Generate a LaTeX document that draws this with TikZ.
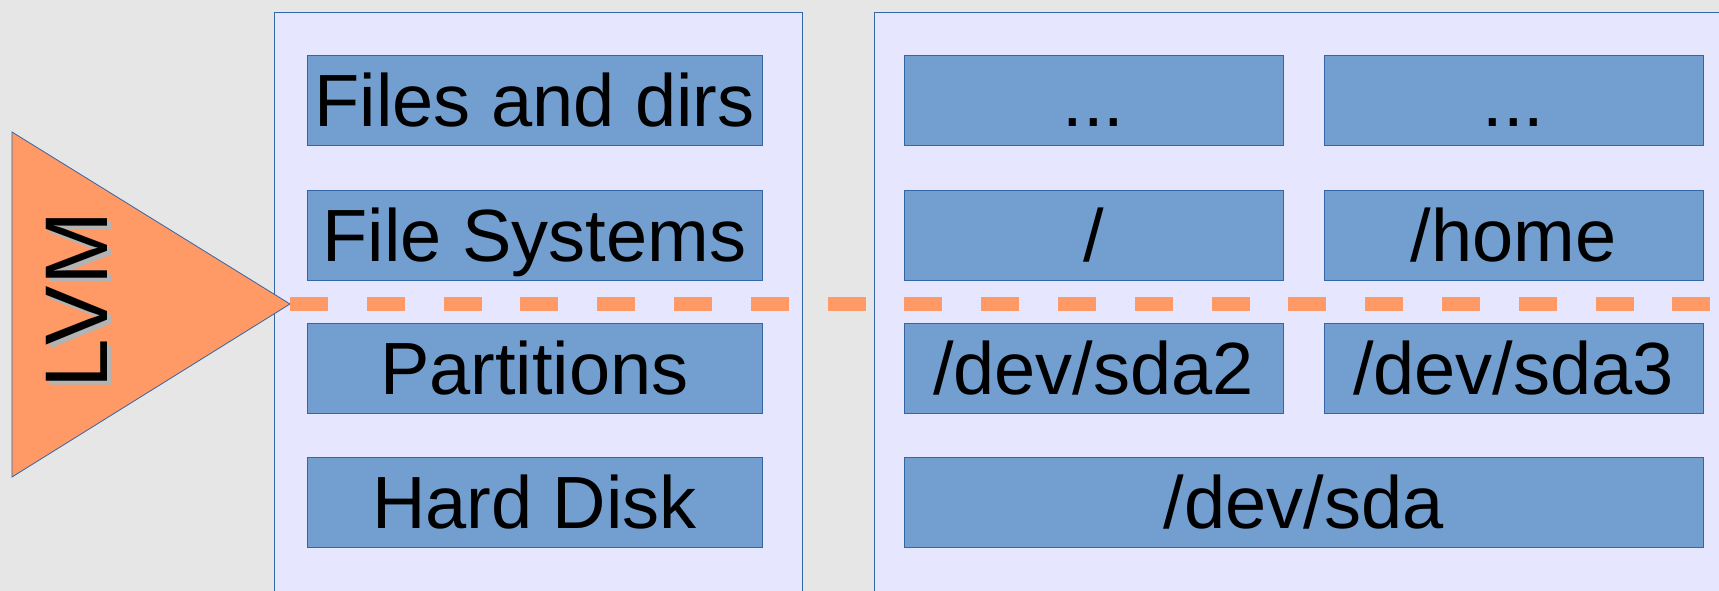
\documentclass[tikz,border=0pt]{standalone}
\usepackage{fontspec}
\setmainfont{Liberation Sans}

\definecolor{pagegray}{HTML}{E6E6E6}
\definecolor{panelbg}{HTML}{E6E6FF}
\definecolor{boxfill}{HTML}{729FCF}
\definecolor{edgeblue}{HTML}{3465A4}
\definecolor{lvmorange}{HTML}{FF9966}
\definecolor{shadowgray}{HTML}{B3B3B3}

\begin{document}
\begin{tikzpicture}[x=1pt,y=-1pt,
  panel/.style={draw=edgeblue,fill=panelbg,line width=0.8pt},
  layer/.style={draw=edgeblue,fill=boxfill,line width=0.8pt,inner sep=0pt,
    minimum width=455pt,minimum height=90pt,
    text height=53pt,text depth=0pt,font=\fontsize{74}{80}\selectfont},
  half/.style={layer,minimum width=379pt},
  lvmtext/.style={rotate=90,inner sep=0pt,text height=64pt,text depth=0pt,
    font=\fontsize{89}{95}\selectfont}]

\useasboundingbox (0,0) rectangle (1719,591);
\fill[pagegray] (0,0) rectangle (1719,591);

% the two columns
\filldraw[panel] (274,12) rectangle (802,600);
\filldraw[panel] (874,12) rectangle (1730,600);

% generic layers
\node[layer] (fd) at (534.5,100.5) {Files and dirs};

\node[layer] (fs) at (534.5,235) {File Systems};

\node[layer] (part) at (534.5,368) {Partitions};

\node[layer] (hd) at (534.5,502) {Hard Disk};

% example layers
\node[half] (dots1) at (1093.5,100.5) {...};

\node[half] (dots2) at (1513.5,100.5) {...};

\node[half] (root) at (1093.5,235) {/};

\node[half] (home) at (1513.5,235) {/home};

\node[half] (sda2) at (1093.5,368) {/dev/sda2};

\node[half] (sda3) at (1513.5,368) {/dev/sda3};

\node[layer,minimum width=799pt] (sda) at (1303.5,502) {/dev/sda};

% LVM wedge
\filldraw[fill=lvmorange,draw=edgeblue,line width=0.8pt] (12,132) -- (290,304) -- (12,477) -- cycle;
\node[lvmtext,text=shadowgray] (lvmshadow) at (79,304) {LVM};
\node[lvmtext] (lvm) at (75,300) {LVM};

\coordinate (apex) at (290,304);
\coordinate (lineend) at (1712,304);
\draw[lvmorange,line width=14pt,dash pattern=on 38pt off 38.8pt] (apex) -- (lineend);
\end{tikzpicture}
\end{document}
